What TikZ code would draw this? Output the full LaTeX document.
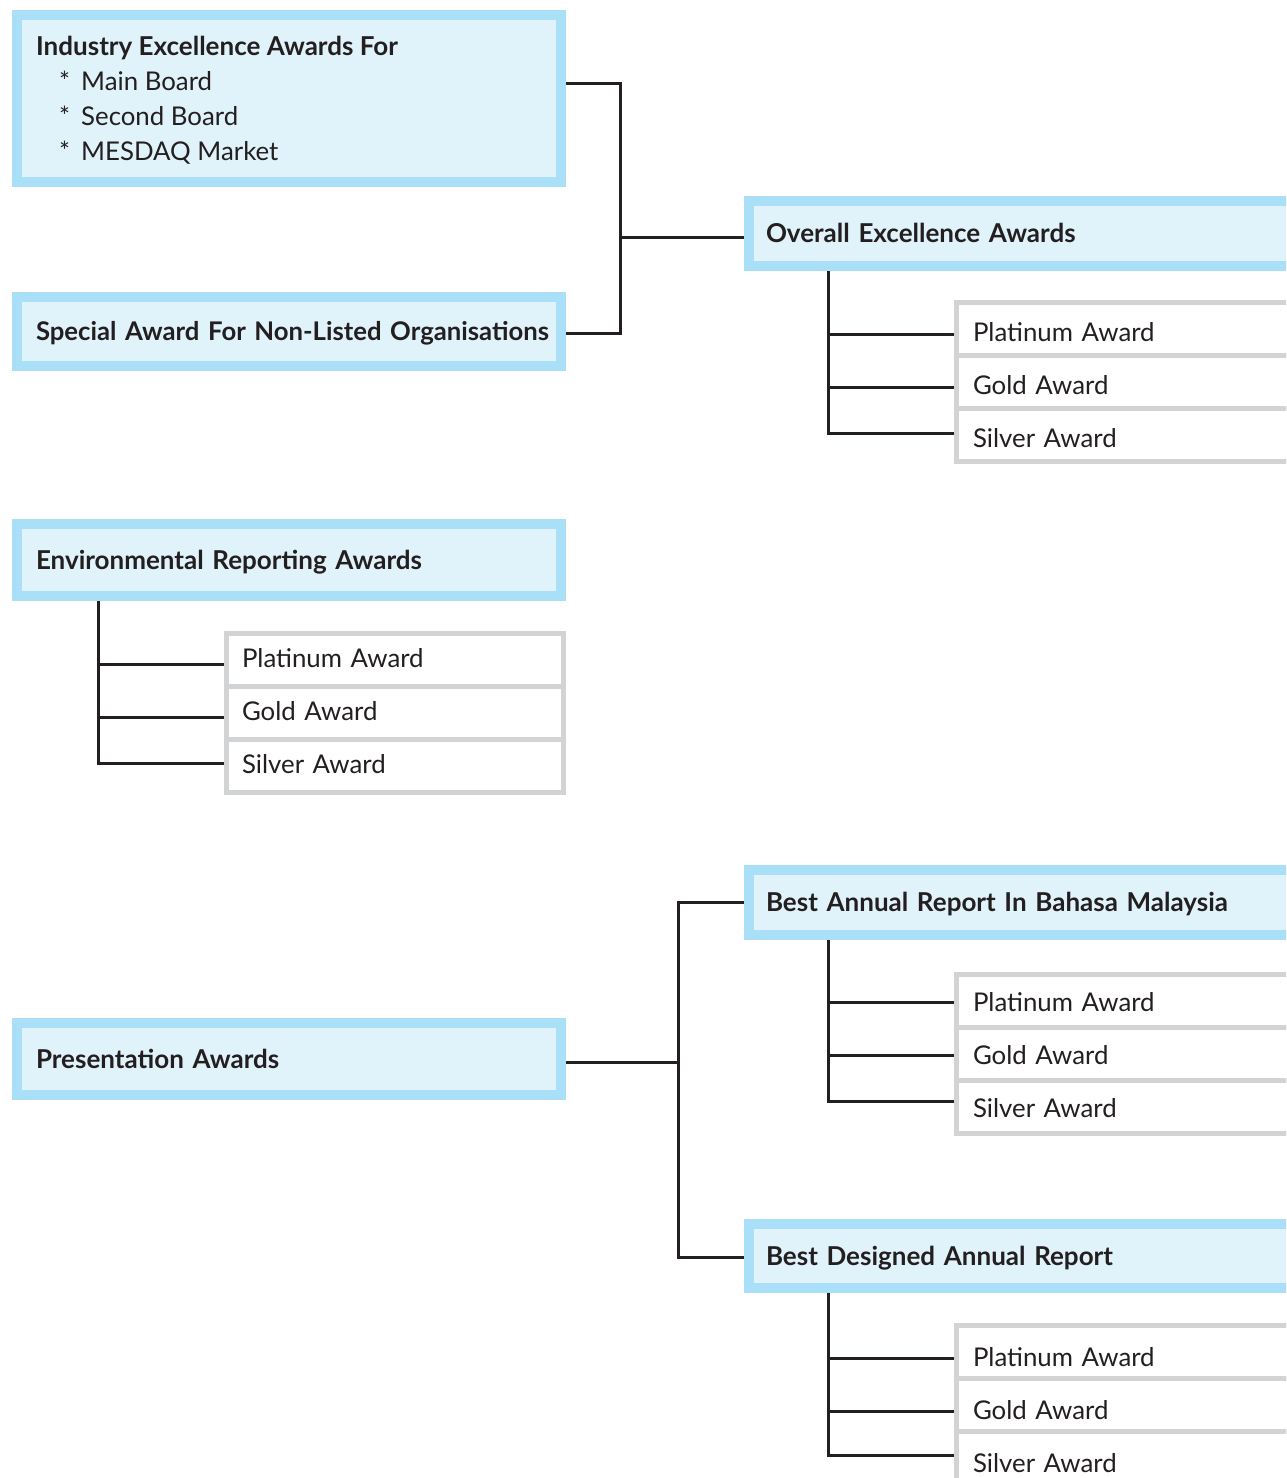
\documentclass[tikz,border=0pt]{standalone}
\usepackage{fontspec}
\setmainfont{Lato}
\usetikzlibrary{backgrounds,calc}
\definecolor{bluebd}{HTML}{AADFF8}
\definecolor{bluefill}{HTML}{E0F2FA}
\definecolor{graybd}{HTML}{D2D3D4}
\definecolor{ink}{HTML}{231F20}
\hbadness=10000
\hfuzz=40pt
\begin{document}
\begin{tikzpicture}[x=1pt,y=-1pt,
  bluebox/.style={draw=bluebd, line width=10pt, fill=bluefill, rectangle, anchor=north west,
    outer sep=0pt, inner ysep=0pt, align=left, text=ink,
    font=\bfseries\fontsize{26}{30}\selectfont, text height=18pt, text depth=0pt},
  leftbox/.style={bluebox, inner xsep=19pt, text width=506pt},
  rightbox/.style={bluebox, inner xsep=17pt, text width=517pt},
  graybox/.style={draw=graybd, line width=5pt, fill=white, rectangle, anchor=north west,
    outer sep=0pt, inner ysep=0pt, minimum height=53pt, align=left, text=ink,
    font=\fontsize{25.8}{32}\selectfont, text height=19pt, text depth=0pt},
  subright/.style={graybox, inner xsep=16.5pt, text width=310.5pt},
  subleft/.style={graybox, inner xsep=15.5pt, text width=306pt},
  itemtxt/.style={anchor=base west, inner sep=0pt, text=ink, font=\fontsize{25.8}{32}\selectfont},
  link/.style={draw=ink, line width=3pt}
]
\useasboundingbox (0,0) rectangle (1286,1478);
\clip (0,0) rectangle (1286,1478);

% top-left group
\node[leftbox, minimum height=167pt] (ind) at (17,15) {};
\node[itemtxt, font=\bfseries\fontsize{26}{30}\selectfont] (it1) at (36,55) {Industry Excellence Awards For};
\node[itemtxt] (it2) at (59,90) {\makebox[22pt][l]{*}Main Board};
\node[itemtxt] (it3) at (59,125) {\makebox[22pt][l]{*}Second Board};
\node[itemtxt] (it4) at (59,160) {\makebox[22pt][l]{*}MESDAQ Market};
\node[leftbox, minimum height=69pt, font=\bfseries\fontsize{25.7}{30}\selectfont] (sp) at (17,297) {\mbox{Special Award For Non-Listed Organisations}};

\node[rightbox, minimum height=65pt] (ov) at (749,201) {Overall Excellence Awards};
\node[subright, text height=26pt] (op) at (956.5,302) {Platinum Award};
\node[subright, text height=26pt] (og) at (956.5,355) {Gold Award};
\node[subright, text height=26pt] (os) at (956.5,408) {Silver Award};

% environmental
\node[leftbox, minimum height=72pt] (env) at (17,524) {Environmental Reporting Awards};
\node[subleft, text height=15pt] (ep) at (226.5,633.5) {Platinum Award};
\node[subleft, text height=15pt] (eg) at (226.5,686.5) {Gold Award};
\node[subleft, text height=15pt] (es) at (226.5,739.5) {Silver Award};

% presentation
\node[leftbox, minimum height=72pt] (pr) at (17,1023) {Presentation Awards};
\node[rightbox, minimum height=65pt] (ba) at (749,870) {Best Annual Report In Bahasa Malaysia};
\node[subright, text height=20pt] (bap) at (956.5,974.5) {Platinum Award};
\node[subright, text height=20pt] (bag) at (956.5,1027.5) {Gold Award};
\node[subright, text height=20pt] (bas) at (956.5,1080.5) {Silver Award};
\node[rightbox, minimum height=64pt] (bd) at (749,1224) {Best Designed Annual Report};
\node[subright, text height=28pt] (bdp) at (956.5,1325.5) {Platinum Award};
\node[subright, text height=28pt] (bdg) at (956.5,1378.5) {Gold Award};
\node[subright, text height=28pt] (bds) at (956.5,1431.5) {Silver Award};

\coordinate (j1) at (620,237);
\coordinate (j2) at (678,1062);
\coordinate (ovv) at (828,266);
\coordinate (envv) at (98,596);
\coordinate (bav) at (828,935);
\coordinate (bdv) at (828,1288);

\begin{scope}[on background layer]
\draw[link] ([yshift=15.5pt]ind.east) -| (j1) |- ([yshift=-1.5pt]sp.east);
\draw[link] (j1) -- (ov.west |- j1);
\draw[link] (ovv) |- ([yshift=-5.5pt]op.west);
\draw[link] (ovv) |- ([yshift=-5.5pt]og.west);
\draw[link] (ovv) |- ([yshift=1.5pt]os.west);
\draw[link] (envv) |- ([yshift=-4pt]ep.west);
\draw[link] (envv) |- ([yshift=-4pt]eg.west);
\draw[link] (envv) |- ([yshift=3pt]es.west);
\draw[link] (pr.east |- j2) -- (j2);
\draw[link] ([yshift=0.5pt]ba.west) -| (j2) |- ([yshift=-1pt]bd.west);
\draw[link] (bav) |- ([yshift=-1pt]bap.west);
\draw[link] (bav) |- ([yshift=-1pt]bag.west);
\draw[link] (bav) |- ([yshift=6pt]bas.west);
\draw[link] (bdv) |- ([yshift=-6pt]bdp.west);
\draw[link] (bdv) |- ([yshift=-6pt]bdg.west);
\draw[link] (bdv) |- ([yshift=3pt]bds.west);
\end{scope}
\end{tikzpicture}
\end{document}
